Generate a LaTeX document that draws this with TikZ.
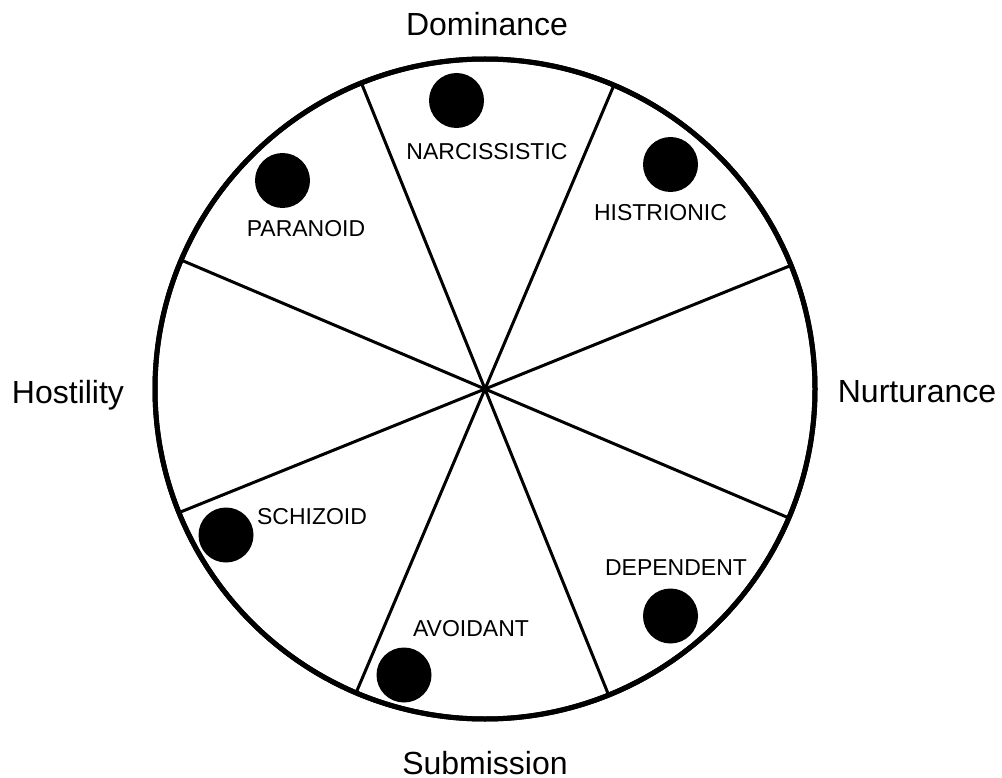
\documentclass[tikz,border=0pt]{standalone}
\usepackage{fontspec}
\setmainfont{Liberation Sans}
\begin{document}
\begin{tikzpicture}[x=1pt,y=-1pt,
  axislabel/.style={inner sep=0pt,anchor=base,font=\fontsize{32}{32}\selectfont},
  typelabel/.style={inner sep=0pt,anchor=base,font=\fontsize{23}{23}\selectfont},
  dot/.style={circle,fill=black,inner sep=0pt,minimum size=55pt},
  spoke/.style={line width=3pt},
  ring/.style={circle,draw,line width=5pt,inner sep=0pt,outer sep=0pt,minimum size=660pt}]
\useasboundingbox (0,0) rectangle (1002,778);
\coordinate (c) at (485,389);
\node[ring] (wheel) at (c) {};
% eight sectors of 45 degrees each
\foreach \a in {22.5,67.5,112.5,157.5,202.5,247.5,292.5,337.5}
  \draw[spoke] (c) -- (wheel.\a);
\node[ring] at (c) {};
% axis names
\node[axislabel] (dom) at (487,36) {Dominance};
\node[axislabel] (sub) at (485,774) {Submission};
\node[axislabel] (hos) at (68,403) {Hostility};
\node[axislabel] (nur) at (917,402) {Nurturance};
% disorder markers and labels
\node[dot] (dn) at (456.5,100.5) {};
\node[typelabel] (ln) at (487,160) {NARCISSISTIC};
\node[dot] (dh) at (670.5,164.5) {};
\node[typelabel] (lh) at (660.5,221) {HISTRIONIC};
\node[dot] (dp) at (282.5,180.5) {};
\node[typelabel] (lp) at (306,237) {PARANOID};
\node[dot] (ds) at (226,535) {};
\node[typelabel] (ls) at (312,524) {SCHIZOID};
\node[dot] (da) at (404,675) {};
\node[typelabel] (la) at (471,636) {AVOIDANT};
\node[dot] (dd) at (670.5,616) {};
\node[typelabel] (ld) at (676,575) {DEPENDENT};
\end{tikzpicture}
\end{document}
